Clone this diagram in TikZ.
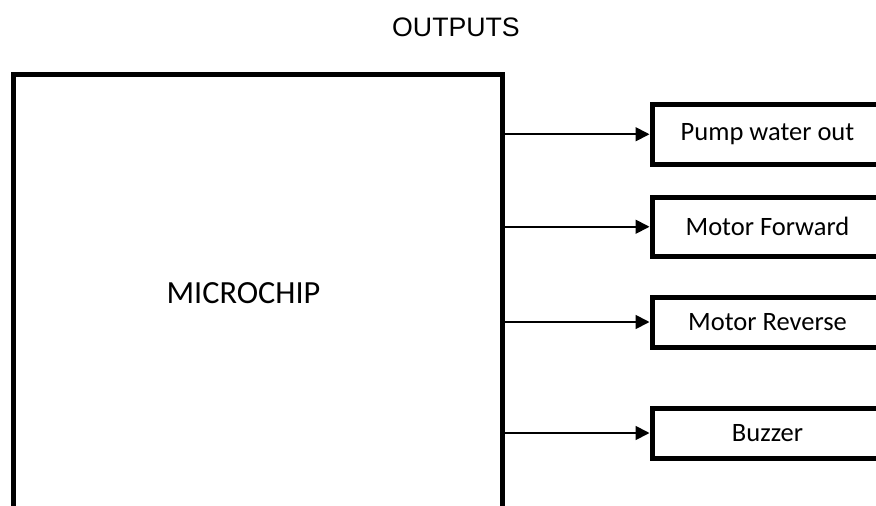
\documentclass[tikz,border=0pt]{standalone}
\usepackage{fontspec}
\setmainfont{Carlito}
\newfontfamily\arialfont{Liberation Sans}
\usetikzlibrary{arrows.meta}
\tikzset{
  outbox/.style={draw,line width=5pt,minimum width=231pt,inner sep=0pt,font=\fontsize{26.5}{30}\selectfont},
  feed/.style={line width=1.8pt,-{Triangle[length=14pt,width=14pt]}}
}
\begin{document}
\begin{tikzpicture}[x=1pt,y=-1pt]
\useasboundingbox (0,0) rectangle (876,506);
\clip (0,0) rectangle (876,506);
\node[draw,line width=5pt,minimum width=489.5pt,minimum height=486pt] (chip) at (257.75,317) {};
\node[font=\fontsize{32.3}{38}\selectfont] (chiplabel) at (243.5,293) {MICROCHIP};
\node[font=\arialfont\fontsize{26.7}{32}\selectfont] (title) at (456,27) {OUTPUTS};

\node[outbox,minimum height=59.5pt] (pump) at (767.5,134.25) {Pump water out};
\node[outbox,minimum height=59.5pt] (fwd) at (767.5,226.75) {Motor Forward};
\node[outbox,minimum height=50pt] (rev) at (767.5,322) {Motor Reverse};
\node[outbox,minimum height=50pt] (buzz) at (767.5,433) {Buzzer};

\draw[feed] (chip.east |- pump.west) -- (pump.west);
\draw[feed] (chip.east |- fwd.west) -- (fwd.west);
\draw[feed] (chip.east |- rev.west) -- (rev.west);
\draw[feed] (chip.east |- buzz.west) -- (buzz.west);
\end{tikzpicture}
\end{document}
